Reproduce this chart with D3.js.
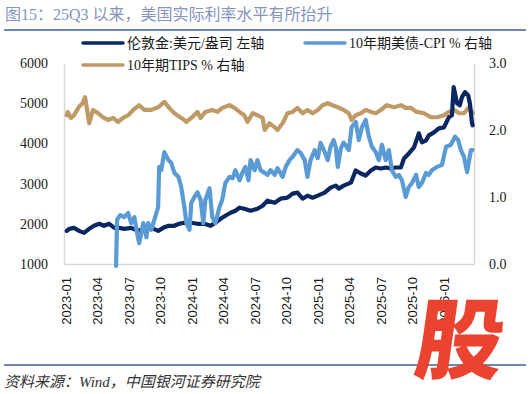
<!doctype html>
<html lang="zh-CN">
<head>
<meta charset="utf-8" />
<title>图15：25Q3 以来，美国实际利率水平有所抬升</title>
<script src="https://cdn.jsdelivr.net/npm/d3@7"></script>
<style>
	body { margin: 0; background: #fff; }
	svg { display: block; }
</style>
</head>
<body>
<div id="chart"></div>
<script>
// 伦敦金:美元/盎司 (left axis)
const goldSeries = [
	["2023-01-03", 1825], ["2023-01-10", 1875], ["2023-01-24", 1900], ["2023-02-08", 1825], ["2023-02-22", 1775],
	["2023-03-09", 1875], ["2023-03-23", 1950], ["2023-04-07", 2000], ["2023-04-21", 1950], ["2023-05-06", 2000],
	["2023-05-21", 1900], ["2023-06-04", 1900], ["2023-06-19", 1875], ["2023-07-09", 1900], ["2023-07-29", 1825],
	["2023-08-16", 1875], ["2023-09-05", 1900], ["2023-09-25", 1825], ["2023-10-10", 1900], ["2023-10-25", 1950],
	["2023-11-11", 1950], ["2023-11-25", 2000], ["2023-12-10", 2025], ["2023-12-30", 2025], ["2024-01-17", 2000],
	["2024-02-06", 2000], ["2024-02-24", 1950], ["2024-03-09", 2025], ["2024-03-24", 2125], ["2024-04-07", 2200],
	["2024-04-22", 2275], ["2024-05-06", 2325], ["2024-05-18", 2400], ["2024-06-01", 2375], ["2024-06-19", 2325],
	["2024-07-09", 2375], ["2024-07-24", 2450], ["2024-08-07", 2575], ["2024-08-28", 2525], ["2024-09-14", 2625],
	["2024-10-04", 2650], ["2024-10-19", 2750], ["2024-11-02", 2775], ["2024-11-17", 2625], ["2024-12-01", 2700],
	["2024-12-16", 2650], ["2024-12-31", 2700], ["2025-01-20", 2775], ["2025-02-06", 2900], ["2025-02-21", 2950],
	["2025-03-02", 2875], ["2025-03-16", 2950], ["2025-04-06", 3025], ["2025-04-20", 3325], ["2025-05-05", 3250],
	["2025-05-19", 3200], ["2025-06-03", 3325], ["2025-06-17", 3400], ["2025-07-02", 3375], ["2025-07-16", 3400],
	["2025-07-31", 3375], ["2025-08-14", 3400], ["2025-08-29", 3400], ["2025-09-07", 3625], ["2025-09-21", 3750],
	["2025-10-06", 3900], ["2025-10-20", 4250], ["2025-10-29", 4025], ["2025-11-10", 4075], ["2025-11-18", 4200],
	["2025-12-03", 4275], ["2025-12-17", 4375], ["2026-01-01", 4400], ["2026-01-15", 4650], ["2026-01-24", 4700],
	["2026-01-29", 5400], ["2026-02-08", 5000], ["2026-02-16", 4950], ["2026-02-22", 5150], ["2026-03-03", 5275],
	["2026-03-12", 5200], ["2026-03-17", 5000], ["2026-03-23", 4525], ["2026-03-25", 4450]
];

// 10年期美债-CPI % (right axis)
const realYieldSeries = [
	["2023-05-26", -0.03], ["2023-05-29", 0.66], ["2023-06-07", 0.73], ["2023-06-19", 0.70], ["2023-06-30", 0.76],
	["2023-07-09", 0.61], ["2023-07-18", 0.70], ["2023-07-26", 0.46], ["2023-08-01", 0.31], ["2023-08-13", 0.61],
	["2023-08-22", 0.40], ["2023-08-27", 0.61], ["2023-09-05", 0.51], ["2023-09-14", 0.66], ["2023-09-25", 0.85],
	["2023-09-28", 1.45], ["2023-10-04", 1.40], ["2023-10-13", 1.67], ["2023-10-25", 1.55], ["2023-11-02", 1.51],
	["2023-11-11", 1.36], ["2023-11-23", 1.30], ["2023-12-01", 1.15], ["2023-12-10", 0.85], ["2023-12-16", 0.61],
	["2023-12-25", 0.51], ["2023-12-30", 0.91], ["2024-01-08", 1.00], ["2024-01-17", 1.07], ["2024-01-26", 0.96],
	["2024-02-03", 0.61], ["2024-02-09", 0.96], ["2024-02-21", 1.13], ["2024-02-29", 0.70], ["2024-03-09", 0.61],
	["2024-03-21", 0.85], ["2024-03-29", 0.96], ["2024-04-07", 1.21], ["2024-04-19", 1.30], ["2024-04-28", 1.28],
	["2024-05-06", 1.40], ["2024-05-18", 1.25], ["2024-05-27", 1.37], ["2024-06-04", 1.45], ["2024-06-13", 1.25],
	["2024-06-19", 1.55], ["2024-07-01", 1.40], ["2024-07-09", 1.55], ["2024-07-18", 1.40], ["2024-07-30", 1.36],
	["2024-08-07", 1.33], ["2024-08-16", 1.40], ["2024-08-28", 1.33], ["2024-09-05", 1.43], ["2024-09-20", 1.30],
	["2024-09-29", 1.45], ["2024-10-10", 1.55], ["2024-10-19", 1.60], ["2024-11-02", 1.70], ["2024-11-11", 1.66],
	["2024-11-23", 1.55], ["2024-12-01", 1.30], ["2024-12-10", 1.55], ["2024-12-22", 1.70], ["2024-12-31", 1.58],
	["2025-01-08", 1.81], ["2025-01-20", 1.67], ["2025-01-29", 1.55], ["2025-02-06", 1.75], ["2025-02-15", 1.85],
	["2025-02-21", 1.75], ["2025-02-27", 1.45], ["2025-03-08", 1.73], ["2025-03-16", 1.81], ["2025-03-31", 1.70],
	["2025-04-08", 2.04], ["2025-04-20", 2.12], ["2025-04-29", 1.85], ["2025-05-08", 2.04], ["2025-05-19", 2.15],
	["2025-05-28", 1.90], ["2025-06-06", 1.75], ["2025-06-17", 1.67], ["2025-06-26", 1.55], ["2025-07-05", 1.78],
	["2025-07-16", 1.55], ["2025-07-25", 1.70], ["2025-08-03", 1.40], ["2025-08-14", 1.30], ["2025-08-23", 1.33],
	["2025-09-01", 1.25], ["2025-09-12", 1.00], ["2025-09-21", 1.15], ["2025-09-30", 1.21], ["2025-10-12", 1.33],
	["2025-10-20", 1.15], ["2025-10-29", 1.21], ["2025-11-10", 1.36], ["2025-11-18", 1.33], ["2025-11-27", 1.40],
	["2025-12-12", 1.45], ["2025-12-26", 1.48], ["2026-01-07", 1.75], ["2026-01-21", 1.78], ["2026-02-02", 1.90],
	["2026-02-11", 1.85], ["2026-02-19", 1.70], ["2026-02-28", 1.60], ["2026-03-09", 1.37], ["2026-03-15", 1.55],
	["2026-03-20", 1.70], ["2026-03-25", 1.70]
];

// 10年期TIPS % (right axis)
const tipsSeries = [
	["2023-01-03", 2.22], ["2023-01-06", 2.27], ["2023-01-15", 2.18], ["2023-01-24", 2.22], ["2023-02-08", 2.35],
	["2023-02-18", 2.40], ["2023-02-25", 2.49], ["2023-03-03", 2.30], ["2023-03-09", 2.10], ["2023-03-20", 2.30],
	["2023-04-04", 2.25], ["2023-04-18", 2.19], ["2023-05-03", 2.15], ["2023-05-17", 2.18], ["2023-06-01", 2.12],
	["2023-06-15", 2.18], ["2023-06-30", 2.22], ["2023-07-15", 2.30], ["2023-08-01", 2.37], ["2023-08-16", 2.30],
	["2023-09-05", 2.30], ["2023-09-25", 2.34], ["2023-10-13", 2.42], ["2023-10-27", 2.33], ["2023-11-11", 2.25],
	["2023-12-01", 2.18], ["2023-12-16", 2.12], ["2023-12-30", 2.18], ["2024-01-17", 2.27], ["2024-01-26", 2.18],
	["2024-02-09", 2.27], ["2024-02-29", 2.30], ["2024-03-15", 2.27], ["2024-03-29", 2.33], ["2024-04-19", 2.37],
	["2024-05-03", 2.33], ["2024-05-18", 2.27], ["2024-06-01", 2.22], ["2024-06-10", 2.12], ["2024-06-25", 2.25],
	["2024-07-09", 2.22], ["2024-07-24", 2.18], ["2024-07-30", 2.00], ["2024-08-13", 2.10], ["2024-08-28", 2.04],
	["2024-09-05", 2.00], ["2024-09-20", 2.10], ["2024-10-04", 2.25], ["2024-10-19", 2.27], ["2024-11-02", 2.33],
	["2024-11-17", 2.25], ["2024-12-01", 2.30], ["2024-12-16", 2.25], ["2024-12-31", 2.30], ["2025-01-14", 2.37],
	["2025-01-29", 2.40], ["2025-02-12", 2.37], ["2025-02-27", 2.34], ["2025-03-16", 2.30], ["2025-03-31", 2.25],
	["2025-04-08", 2.15], ["2025-04-20", 2.22], ["2025-05-05", 2.25], ["2025-05-19", 2.30], ["2025-06-03", 2.27],
	["2025-06-17", 2.25], ["2025-07-02", 2.30], ["2025-07-19", 2.37], ["2025-08-09", 2.34], ["2025-08-29", 2.37],
	["2025-09-12", 2.33], ["2025-09-27", 2.33], ["2025-10-14", 2.27], ["2025-11-04", 2.25], ["2025-11-24", 2.19],
	["2025-12-12", 2.19], ["2026-01-01", 2.22], ["2026-01-15", 2.27], ["2026-01-30", 2.30], ["2026-02-14", 2.25],
	["2026-02-28", 2.25], ["2026-03-15", 2.34], ["2026-03-20", 2.30], ["2026-03-25", 2.25]
];

const xTickLabels = ["2023-01", "2023-04", "2023-07", "2023-10", "2024-01", "2024-04", "2024-07",
	"2024-10", "2025-01", "2025-04", "2025-07", "2025-10", "2026-01"];
const leftTicks = [1000, 2000, 3000, 4000, 5000, 6000];
const rightTicks = [0, 1, 2, 3];
const legendLabels = ["伦敦金:美元/盎司 左轴", "10年期美债-CPI % 右轴", "10年期TIPS % 右轴"];

const W = 530, H = 394;
const PLOT = { left: 64, right: 474, top: 63, bottom: 264 };
const NAVY = "#0b2761", BLUE = "#5b9bd5", TAN = "#bf9a66", RULE = "#6f86b8";
const FONT = "'Liberation Serif', 'Noto Sans CJK SC', serif";

const parseDay = d3.timeParse("%Y-%m-%d");
const parseMonth = d3.timeParse("%Y-%m");

const x = d3.scaleTime().domain([parseDay("2022-12-26"), parseDay("2026-03-29")]).range([PLOT.left, PLOT.right]);
const yLeft = d3.scaleLinear().domain([1000, 6000]).range([PLOT.bottom, PLOT.top]);
const yRight = d3.scaleLinear().domain([0, 3]).range([PLOT.bottom, PLOT.top]);

const svg = d3.select("#chart").append("svg").attr("width", W).attr("height", H);

// title + rules
svg.append("text")
	.attr("x", 5).attr("y", 20)
	.attr("font-family", FONT).attr("font-size", 16).attr("fill", "#8494bd")
	.text("图15：25Q3 以来，美国实际利率水平有所抬升");
svg.append("line").attr("x1", 4).attr("x2", 526).attr("y1", 30).attr("y2", 30)
	.attr("stroke", RULE).attr("stroke-width", 2);

// axes
const styleAxis = (g) => {
	g.select(".domain").attr("stroke", "#d9d9d9").attr("stroke-width", 1.5);
	g.selectAll("text").attr("font-family", FONT).attr("fill", "#1a1a1a");
};

svg.append("g")
	.attr("transform", `translate(0,${PLOT.bottom})`)
	.call(d3.axisBottom(x).tickValues(xTickLabels.map(parseMonth)).tickFormat(d3.timeFormat("%Y-%m")).tickSize(0).tickSizeOuter(0))
	.call(styleAxis)
	.call((g) => g.selectAll("text")
		.attr("font-family", "'Liberation Sans', Arial, sans-serif")
		.attr("font-size", 13)
		.attr("y", 0).attr("x", -13).attr("dy", "0.35em")
		.attr("transform", "rotate(-90)")
		.attr("text-anchor", "end"));

svg.append("g")
	.attr("transform", `translate(${PLOT.left},0)`)
	.call(d3.axisLeft(yLeft).tickValues(leftTicks).tickFormat(d3.format("d")).tickSize(0).tickSizeOuter(0).tickPadding(16))
	.call(styleAxis)
	.call((g) => g.selectAll("text").attr("font-size", 14));

svg.append("g")
	.attr("transform", `translate(${PLOT.right},0)`)
	.call(d3.axisRight(yRight).tickValues(rightTicks).tickFormat(d3.format(".1f")).tickSize(0).tickSizeOuter(0).tickPadding(15))
	.call(styleAxis)
	.call((g) => g.selectAll("text").attr("font-size", 14));

// lines (tips under gold under real yield)
const lineLeft = d3.line().x((d) => x(parseDay(d[0]))).y((d) => yLeft(d[1]));
const lineRight = d3.line().x((d) => x(parseDay(d[0]))).y((d) => yRight(d[1]));

const drawLine = (data, gen, color) =>
	svg.append("path").datum(data).attr("d", gen)
		.attr("fill", "none").attr("stroke", color).attr("stroke-width", 4.2)
		.attr("stroke-linejoin", "round").attr("stroke-linecap", "round");

drawLine(tipsSeries, lineRight, TAN);
drawLine(goldSeries, lineLeft, NAVY);
drawLine(realYieldSeries, lineRight, BLUE);

// legend
const legendItems = [
	{ label: legendLabels[0], color: NAVY, x: 83, y: 43 },
	{ label: legendLabels[1], color: BLUE, x: 305, y: 43 },
	{ label: legendLabels[2], color: TAN, x: 83, y: 65 }
];
const legend = svg.append("g").selectAll("g").data(legendItems).join("g")
	.attr("transform", (d) => `translate(${d.x},${d.y})`);
legend.append("line").attr("x1", 0).attr("x2", 40)
	.attr("stroke", (d) => d.color).attr("stroke-width", 3.5).attr("stroke-linecap", "round");
legend.append("text").attr("x", 44).attr("dy", "0.35em")
	.attr("font-family", FONT).attr("font-size", 14).attr("fill", "#1a1a1a")
	.text((d) => d.label);

// source + bottom rule
svg.append("line").attr("x1", 4).attr("x2", 526).attr("y1", 365).attr("y2", 365)
	.attr("stroke", RULE).attr("stroke-width", 2);
svg.append("text")
	.attr("x", 4).attr("y", 387)
	.attr("font-family", FONT).attr("font-size", 15).attr("font-style", "italic").attr("fill", "#333")
	.text("资料来源：Wind，中国银河证券研究院");

// watermark glyph
svg.append("text")
	.attr("transform", "translate(412,372) skewX(-8)")
	.attr("font-family", "'Noto Sans CJK SC', sans-serif").attr("font-weight", 900)
	.attr("font-size", 88).attr("fill", "#ea4330")
	.text("股");
</script>
</body>
</html>
